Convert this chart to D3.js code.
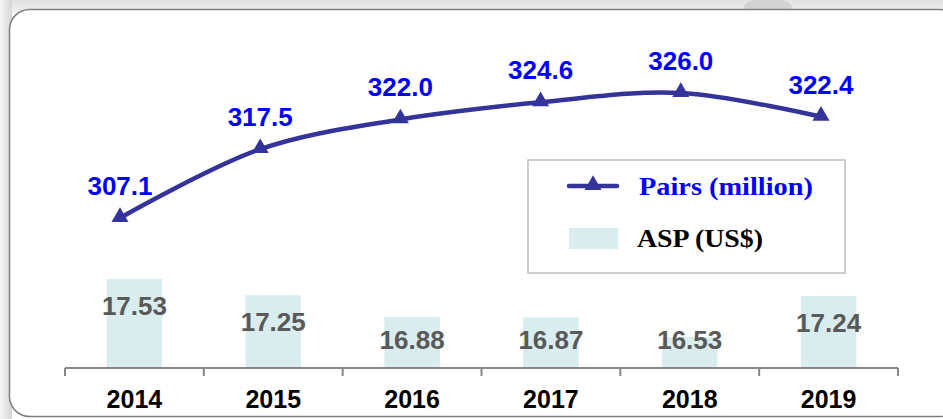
<!DOCTYPE html>
<html>
<head>
<meta charset="utf-8">
<script src="https://cdn.jsdelivr.net/npm/d3@7"></script>
<style>
  body { margin: 0; background: #fff; }
  svg { display: block; }
</style>
</head>
<body>
<svg id="chart" width="943" height="419"></svg>
<script>
// data
var years = ['2014', '2015', '2016', '2017', '2018', '2019'];
var pairs = [307.1, 317.5, 322.0, 324.6, 326.0, 322.4];   // million
var asp   = [17.53, 17.25, 16.88, 16.87, 16.53, 17.24];   // US$

var conf = {
    axisY: 368,
    axisLeft: 65,
    axisRight: 898,
    barColor: '#d9ecee',
    lineColor: '#333399',
    labelBlue: '#0000ff',
    labelGray: '#595959'
};

var svg = d3.select('#chart');

// background shadow + framed panel
var defs = svg.append('defs');
var grad = defs.append('linearGradient').attr('id', 'shade')
    .attr('x1', 0).attr('y1', 0).attr('x2', 0).attr('y2', 1);
grad.append('stop').attr('offset', '0%').attr('stop-color', '#e2e2e2');
grad.append('stop').attr('offset', '100%').attr('stop-color', '#f0f0f0');
var gradL = defs.append('linearGradient').attr('id', 'shadeL')
    .attr('x1', 0).attr('y1', 0).attr('x2', 1).attr('y2', 0);
gradL.append('stop').attr('offset', '0%').attr('stop-color', '#f4f4f4');
gradL.append('stop').attr('offset', '100%').attr('stop-color', '#d6d6d6');

svg.append('rect').attr('width', 943).attr('height', 419).attr('fill', '#fff');
svg.append('rect').attr('width', 943).attr('height', 14).attr('fill', 'url(#shade)');
svg.append('rect').attr('width', 12).attr('height', 419).attr('fill', 'url(#shadeL)');
svg.append('ellipse').attr('cx', 768).attr('cy', 7).attr('rx', 24).attr('ry', 8)
    .attr('fill', '#d3d3d3');

svg.append('rect')
    .attr('x', 9.5).attr('y', 9.5)
    .attr('width', 950).attr('height', 407)
    .attr('rx', 20).attr('ry', 20)
    .attr('fill', '#fff')
    .attr('stroke', '#7f7f7f')
    .attr('stroke-width', 1.5);

// scales
var x = d3.scaleBand().domain(years)
    .range([conf.axisLeft, conf.axisRight]).paddingInner(0.6).paddingOuter(0.3);
var xLine = d3.scalePoint().domain(years).range([120, 821]);
var yBar = d3.scaleLinear().domain([16, 17.53]).range([conf.axisY, 279]);
var yLine = d3.scaleLinear().domain([307.1, 326.0]).range([218, 93]);

// bars
var bars = svg.append('g');
bars.selectAll('rect').data(asp).enter().append('rect')
    .attr('x', function(d, i){ return x(years[i]); })
    .attr('y', function(d){ return yBar(d); })
    .attr('width', x.bandwidth())
    .attr('height', function(d){ return conf.axisY - yBar(d); })
    .attr('fill', conf.barColor);

bars.selectAll('text').data(asp).enter().append('text')
    .attr('x', function(d, i){ return x(years[i]) + x.bandwidth()/2; })
    .attr('y', function(d){ return Math.min(yBar(d) + 36, conf.axisY - 19); })
    .attr('text-anchor', 'middle')
    .style('font-family', '"Liberation Sans", Arial, sans-serif')
    .style('font-weight', 'bold')
    .style('font-size', '26px')
    .attr('fill', conf.labelGray)
    .text(function(d){ return d.toFixed(2); });

// x axis with ticks between categories
var axisG = svg.append('g');
axisG.append('line')
    .attr('x1', conf.axisLeft).attr('x2', conf.axisRight)
    .attr('y1', conf.axisY).attr('y2', conf.axisY)
    .attr('stroke', '#868686').attr('stroke-width', 2);
var step = (conf.axisRight - conf.axisLeft) / years.length;
d3.range(years.length + 1).forEach(function(i){
    axisG.append('line')
        .attr('x1', conf.axisLeft + i*step).attr('x2', conf.axisLeft + i*step)
        .attr('y1', conf.axisY).attr('y2', conf.axisY + 8)
        .attr('stroke', '#868686').attr('stroke-width', 2);
});
axisG.selectAll('text').data(years).enter().append('text')
    .attr('x', function(d){ return x(d) + x.bandwidth()/2; })
    .attr('y', 408)
    .attr('text-anchor', 'middle')
    .style('font-family', '"Liberation Sans", Arial, sans-serif')
    .style('font-weight', 'bold')
    .style('font-size', '25px')
    .attr('fill', '#000')
    .text(function(d){ return d; });

// smoothed line
var line = d3.line()
    .x(function(d, i){ return xLine(years[i]); })
    .y(function(d){ return yLine(d); })
    .curve(d3.curveCatmullRom.alpha(0.5));

svg.append('path').datum(pairs)
    .attr('d', line)
    .attr('fill', 'none')
    .attr('stroke', conf.lineColor)
    .attr('stroke-width', 4.5)
    .attr('stroke-linecap', 'round');

var tri = d3.symbol().type(d3.symbolTriangle).size(125);
svg.append('g').selectAll('path').data(pairs).enter().append('path')
    .attr('d', tri)
    .attr('transform', function(d, i){ return 'translate(' + xLine(years[i]) + ',' + (yLine(d) - 1) + ')'; })
    .attr('fill', conf.lineColor);

svg.append('g').selectAll('text').data(pairs).enter().append('text')
    .attr('x', function(d, i){ return xLine(years[i]); })
    .attr('y', function(d){ return yLine(d) - 23; })
    .attr('text-anchor', 'middle')
    .style('font-family', '"Liberation Sans", Arial, sans-serif')
    .style('font-weight', 'bold')
    .style('font-size', '26px')
    .attr('fill', conf.labelBlue)
    .text(function(d){ return d.toFixed(1); });

// legend
var lg = svg.append('g');
lg.append('rect')
    .attr('x', 528).attr('y', 160).attr('width', 317).attr('height', 113)
    .attr('fill', '#fff').attr('stroke', '#bfbfbf').attr('stroke-width', 1.5);
lg.append('line')
    .attr('x1', 569).attr('x2', 617).attr('y1', 186).attr('y2', 186)
    .attr('stroke', conf.lineColor).attr('stroke-width', 4.5).attr('stroke-linecap', 'round');
lg.append('path').attr('d', tri)
    .attr('transform', 'translate(593,185)').attr('fill', conf.lineColor);
lg.append('text')
    .attr('x', 639).attr('y', 195)
    .attr('textLength', 174).attr('lengthAdjust', 'spacingAndGlyphs')
    .style('font-family', '"Liberation Serif", "Times New Roman", serif')
    .style('font-weight', 'bold')
    .style('font-size', '26px')
    .attr('fill', conf.labelBlue)
    .text('Pairs (million)');
lg.append('rect')
    .attr('x', 569).attr('y', 228).attr('width', 49).attr('height', 21)
    .attr('fill', conf.barColor);
lg.append('text')
    .attr('x', 637).attr('y', 247)
    .attr('textLength', 126).attr('lengthAdjust', 'spacingAndGlyphs')
    .style('font-family', '"Liberation Serif", "Times New Roman", serif')
    .style('font-weight', 'bold')
    .style('font-size', '26px')
    .attr('fill', '#000')
    .text('ASP (US$)');
</script>
</body>
</html>
